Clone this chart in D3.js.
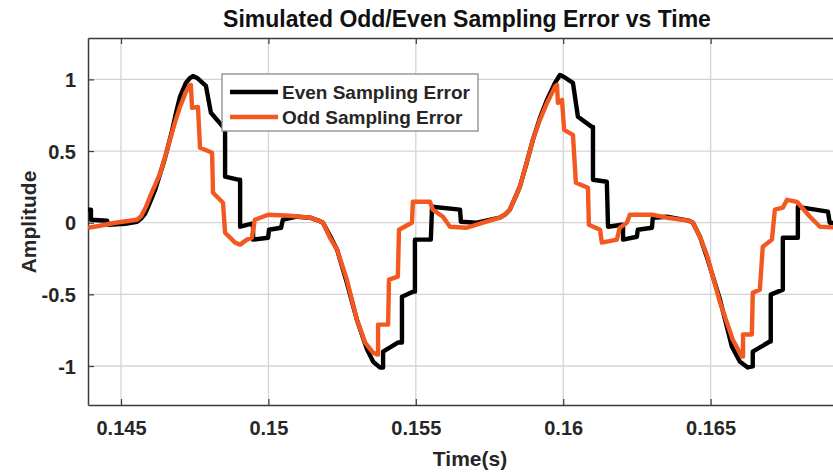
<!DOCTYPE html>
<html>
<head>
<meta charset="utf-8">
<script src="https://cdn.jsdelivr.net/npm/d3@7"></script>
<style>
  body { margin: 0; background: #fff; }
  svg { display: block; font-family: "Liberation Sans", Arial, sans-serif; }
</style>
</head>
<body>
<div id="chart"></div>
<script>
// [time (s), amplitude]
const evenError = [
  [0.14388, 0.091], [0.14398, 0.091], [0.14398, 0.021], [0.14453, 0.014], [0.14456, -0.014],
  [0.14514, -0.007], [0.14554, 0.007], [0.14568, 0.030], [0.14581, 0.060], [0.14598, 0.140],
  [0.14615, 0.225], [0.14649, 0.450], [0.14673, 0.640], [0.14688, 0.780], [0.14700, 0.878],
  [0.14720, 0.976], [0.14734, 1.010], [0.14744, 1.024],
  [0.14758, 1.010], [0.14788, 0.955], [0.14805, 0.767], [0.14846, 0.669], [0.14853, 0.669],
  [0.14853, 0.321], [0.14897, 0.300], [0.14904, 0.300], [0.14904, -0.028], [0.14944, -0.007],
  [0.14948, -0.007], [0.14948, -0.118], [0.14999, -0.105], [0.15002, -0.049], [0.15043, -0.035],
  [0.15049, 0.021], [0.15097, 0.042], [0.15141, 0.035], [0.15170, 0.015], [0.15185, 0.000],
  [0.15209, -0.091], [0.15233, -0.188], [0.15266, -0.418], [0.15300, -0.676], [0.15334, -0.882],
  [0.15355, -0.969], [0.15378, -1.010], [0.15389, -1.010], [0.15389, -0.899], [0.15439, -0.836],
  [0.15453, -0.836], [0.15453, -0.516], [0.15490, -0.481], [0.15497, -0.481], [0.15497, -0.118],
  [0.15551, -0.118], [0.15555, 0.111], [0.15650, 0.091], [0.15653, 0.007], [0.15707, 0.000],
  [0.15785, 0.035], [0.15802, 0.056], [0.15819, 0.091], [0.15853, 0.251], [0.15877, 0.425],
  [0.15897, 0.578], [0.15921, 0.730], [0.15945, 0.857], [0.15972, 0.976],
  [0.15989, 1.031], [0.16003, 1.017], [0.16033, 0.976], [0.16050, 0.739], [0.16097, 0.669],
  [0.16101, 0.669], [0.16101, 0.300], [0.16148, 0.286], [0.16152, -0.028], [0.16199, -0.014],
  [0.16203, -0.014], [0.16203, -0.118], [0.16250, -0.098], [0.16253, -0.049], [0.16301, -0.035],
  [0.16304, 0.035], [0.16352, 0.042], [0.16425, 0.015], [0.16440, 0.000], [0.16464, -0.098],
  [0.16487, -0.237], [0.16532, -0.537], [0.16572, -0.864], [0.16599, -0.969], [0.16626, -1.010],
  [0.16643, -1.003], [0.16643, -0.899], [0.16701, -0.829], [0.16704, -0.829], [0.16704, -0.502],
  [0.16745, -0.467], [0.16745, -0.105], [0.16796, -0.105], [0.16796, 0.111], [0.16898, 0.077],
  [0.16904, 0.000], [0.16939, -0.007]
];

const oddError = [
  [0.14388, -0.035], [0.14429, -0.021], [0.14480, 0.000], [0.14554, 0.021], [0.14568, 0.045],
  [0.14585, 0.111], [0.14598, 0.180], [0.14632, 0.340], [0.14649, 0.455], [0.14666, 0.578],
  [0.14683, 0.700], [0.14700, 0.808], [0.14720, 0.913], [0.14734, 0.962],
  [0.14737, 0.962], [0.14741, 0.801], [0.14761, 0.808], [0.14768, 0.523], [0.14785, 0.509],
  [0.14809, 0.488], [0.14812, 0.209], [0.14846, 0.139], [0.14853, -0.070], [0.14887, -0.139],
  [0.14904, -0.153], [0.14927, -0.118], [0.14944, -0.105], [0.14954, 0.021], [0.14999, 0.056],
  [0.15073, 0.049], [0.15141, 0.035], [0.15170, 0.015], [0.15185, 0.000], [0.15209, -0.105],
  [0.15233, -0.188], [0.15266, -0.397], [0.15300, -0.676], [0.15328, -0.836], [0.15355, -0.906],
  [0.15368, -0.920], [0.15372, -0.920], [0.15372, -0.711], [0.15406, -0.711], [0.15409, -0.397],
  [0.15439, -0.376], [0.15443, -0.049], [0.15480, -0.007], [0.15487, 0.000], [0.15490, 0.146],
  [0.15548, 0.146], [0.15558, 0.091], [0.15592, 0.042], [0.15616, -0.028], [0.15673, -0.035],
  [0.15728, 0.000], [0.15785, 0.035], [0.15802, 0.056], [0.15819, 0.091], [0.15853, 0.251],
  [0.15877, 0.425], [0.15897, 0.578], [0.15921, 0.718], [0.15945, 0.836],
  [0.15972, 0.948], [0.15979, 0.962], [0.15982, 0.836], [0.15996, 0.857], [0.16003, 0.648],
  [0.16033, 0.613], [0.16043, 0.279], [0.16084, 0.244], [0.16087, -0.014], [0.16125, -0.049],
  [0.16131, -0.139], [0.16182, -0.118], [0.16192, -0.035], [0.16216, 0.000], [0.16226, 0.056],
  [0.16301, 0.056], [0.16352, 0.035], [0.16425, 0.015], [0.16440, 0.000], [0.16464, -0.100],
  [0.16487, -0.223], [0.16532, -0.557], [0.16575, -0.815], [0.16606, -0.934], [0.16610, -0.934],
  [0.16610, -0.780], [0.16640, -0.780], [0.16643, -0.488], [0.16667, -0.467], [0.16677, -0.167],
  [0.16708, -0.118], [0.16718, 0.091], [0.16745, 0.105], [0.16759, 0.160], [0.16793, 0.146],
  [0.16837, 0.042], [0.16871, -0.028], [0.16939, -0.035]
];

const xTicks = [0.145, 0.15, 0.155, 0.16, 0.165];
const xTickLabels = ["0.145", "0.15", "0.155", "0.16", "0.165"];
const yTicks = [-1, -0.5, 0, 0.5, 1];
const yTickLabels = ["-1", "-0.5", "0", "0.5", "1"];

const seriesNames = ["Even Sampling Error", "Odd Sampling Error"];
const seriesColors = ["#000000", "#f2581f"];

const width = 833, height = 473;
const margin = { top: 38, right: -25, bottom: 68, left: 88 };
const innerW = width - margin.left - margin.right;
const innerH = height - margin.top - margin.bottom;

const svg = d3.select("#chart").append("svg")
  .attr("width", width).attr("height", height);

const x = d3.scaleLinear().domain([0.14388, 0.17]).range([0, innerW]);
const y = d3.scaleLinear().domain([-1.272, 1.289]).range([innerH, 0]);

const g = svg.append("g").attr("transform", `translate(${margin.left},${margin.top})`);

// grid
g.append("g").selectAll("line").data(xTicks).join("line")
  .attr("x1", d => x(d)).attr("x2", d => x(d))
  .attr("y1", 0).attr("y2", innerH)
  .attr("stroke", "#d4d4d4").attr("stroke-width", 1.3);
g.append("g").selectAll("line").data(yTicks).join("line")
  .attr("x1", 0).attr("x2", innerW)
  .attr("y1", d => y(d)).attr("y2", d => y(d))
  .attr("stroke", "#d4d4d4").attr("stroke-width", 1.3);

// axes (ticks inside, MATLAB style)
const xAxis = g.append("g").attr("transform", `translate(0,${innerH})`)
  .call(d3.axisBottom(x).tickValues(xTicks).tickSizeInner(-6).tickSizeOuter(0)
    .tickFormat((d, i) => xTickLabels[i]).tickPadding(16));
const xAxisTop = g.append("g")
  .call(d3.axisTop(x).tickValues(xTicks).tickSizeInner(-6).tickSizeOuter(0).tickFormat(""));
const yAxis = g.append("g")
  .call(d3.axisLeft(y).tickValues(yTicks).tickSizeInner(-6).tickSizeOuter(0)
    .tickFormat((d, i) => yTickLabels[i]).tickPadding(12));

[xAxis, xAxisTop, yAxis].forEach(a => {
  a.select(".domain").attr("stroke", "#3a3a3a").attr("stroke-width", 1.5);
  a.selectAll(".tick line").attr("stroke", "#3a3a3a").attr("stroke-width", 1.2);
  a.selectAll(".tick text")
    .attr("fill", "#262626")
    .style("font-size", "20px")
    .style("font-weight", "bold")
    .style("font-family", "'Liberation Sans', Arial, sans-serif");
});
yAxis.selectAll(".tick text").attr("dy", "0.36em");

// lines
svg.append("defs").append("clipPath").attr("id", "plot-clip")
  .append("rect").attr("width", innerW).attr("height", innerH);

const line = d3.line().x(d => x(d[0])).y(d => y(d[1]));
const plot = g.append("g").attr("clip-path", "url(#plot-clip)");
[evenError, oddError].forEach((s, i) => {
  plot.append("path").datum(s)
    .attr("fill", "none")
    .attr("stroke", seriesColors[i])
    .attr("stroke-width", 4.4)
    .attr("stroke-linejoin", "round")
    .attr("d", line);
});

// title and labels
svg.append("text")
  .attr("x", 467).attr("y", 27)
  .attr("text-anchor", "middle")
  .style("font-size", "23px").style("font-weight", "bold")
  .attr("fill", "#111")
  .text("Simulated Odd/Even Sampling Error vs Time");

svg.append("text")
  .attr("x", 470).attr("y", 466)
  .attr("text-anchor", "middle")
  .style("font-size", "21px").style("font-weight", "bold")
  .attr("fill", "#262626")
  .text("Time(s)");

svg.append("text")
  .attr("transform", "translate(36,222) rotate(-90)")
  .attr("text-anchor", "middle")
  .style("font-size", "21px").style("font-weight", "bold")
  .attr("fill", "#262626")
  .text("Amplitude");

// legend
const legend = svg.append("g").attr("transform", "translate(222,74)");
legend.append("rect")
  .attr("width", 256).attr("height", 57)
  .attr("fill", "#fff").attr("stroke", "#8a8a8a").attr("stroke-width", 1.3);
seriesNames.forEach((name, i) => {
  const cy = 18 + i * 25;
  legend.append("line")
    .attr("x1", 8).attr("x2", 56).attr("y1", cy).attr("y2", cy)
    .attr("stroke", seriesColors[i]).attr("stroke-width", 4.4);
  legend.append("text")
    .attr("x", 60).attr("y", cy).attr("dy", "0.36em")
    .style("font-size", "19px").style("font-weight", "bold")
    .attr("fill", "#262626")
    .text(name);
});
</script>
</body>
</html>
